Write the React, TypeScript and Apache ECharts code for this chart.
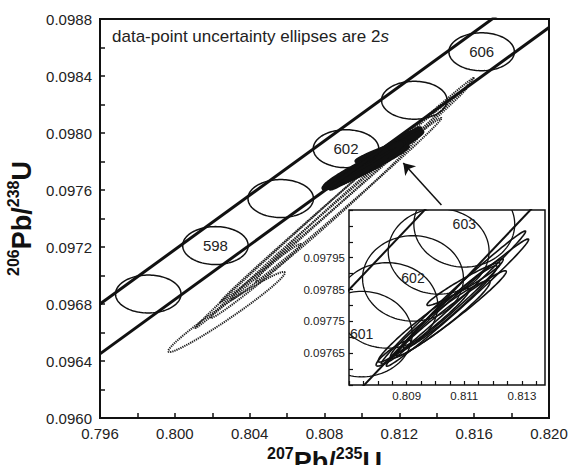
import React, { useEffect, useRef } from "react";
import * as echarts from "echarts";

const FONT = "'Liberation Sans', Arial, sans-serif";

// ---- main axes ----
const mainXMin = 0.796;
const mainXMax = 0.82;
const mainXStep = 0.002; // tick step; labels every 0.004
const mainYMin = 0.096;
const mainYMax = 0.0988;
const mainYStep = 0.0002; // tick step; labels every 0.0004

// ---- inset axes ----
const insetXMin = 0.807;
const insetXMax = 0.8138;
const insetXStep = 0.0005;
const insetXLabels = [0.809, 0.811, 0.813];
const insetYMin = 0.09755;
const insetYMax = 0.0981;
const insetYStep = 0.00005;
const insetYLabels = [0.09765, 0.09775, 0.09785, 0.09795];

// ---- concordia band (two bounding lines) ----
const concordiaUpper = [
  [0.796, 0.0968],
  [0.82, 0.09909],
];
const concordiaLower = [
  [0.796, 0.09645],
  [0.82, 0.09874],
];

// ---- concordia age markers (main plot) ----
const ageMarkAges = [596, 598, 600, 602, 604, 606];
const ageMarkX = [0.79858, 0.80217, 0.80566, 0.80915, 0.8128, 0.8164];
const ageMarkY = [0.09687, 0.09721, 0.09754, 0.09789, 0.09823, 0.09857];
const ageMarkRx = 0.00175;
const ageMarkRy = 0.000133;
const labelledMainAges = [598, 602, 606];

// ---- concordia age markers (inset) ----
const insetAges = [601, 601.5, 602, 602.5, 603];
const insetAgeX = [0.80744, 0.80833, 0.80922, 0.81011, 0.811];
const insetAgeY = [0.09771, 0.0978, 0.097885, 0.09797, 0.098055];
const labelledInsetAges = [601, 602, 603];

// ---- solid data-point ellipses (centre x, centre y, half-extent x, half-extent y, correlation) ----
const solidCx = [0.810623, 0.810764, 0.810534, 0.810552, 0.810975, 0.8096, 0.810164, 0.808541, 0.810517];
const solidCy = [0.097825, 0.097809, 0.0978, 0.097775, 0.097867, 0.097738, 0.097756, 0.09765, 0.097795];
const solidSx = [0.002504, 0.002469, 0.001817, 0.001905, 0.00127, 0.001587, 0.001728, 0.0006, 0.001623];
const solidSy = [0.000209, 0.0002, 0.000147, 0.000134, 0.0000672, 0.000116, 0.000122, 0.0000406, 0.00013];
const solidRho = [0.993, 0.991, 0.985, 0.979, 0.965, 0.968, 0.96, 0.9, 0.974];

// ---- dotted data-point ellipses ----
const dottedCx = [0.802765, 0.808537, 0.80902, 0.808617, 0.808752, 0.804322];
const dottedCy = [0.096744, 0.097509, 0.097565, 0.097467, 0.097481, 0.096961];
const dottedSx = [0.003114, 0.007436, 0.006577, 0.005638, 0.00443, 0.002416];
const dottedSy = [0.000281, 0.000877, 0.000751, 0.000639, 0.000526, 0.00026];
const dottedRho = [0.9771, 0.99907, 0.99877, 0.99735, 0.99414, 0.9901];

// ---- arrow from inset to cluster ----
const arrowFrom = [0.81425, 0.097495];
const arrowTo = [0.81221, 0.09779];

const zip5 = (a: number[], b: number[], c: number[], d: number[], e: number[]) =>
  a.map((v, i) => [v, b[i], c[i], d[i], e[i]]);

function ellipseRenderer(style: any) {
  return (params: any, api: any) => {
    const cx = api.value(0);
    const cy = api.value(1);
    const sx = api.value(2);
    const sy = api.value(3);
    const rho = api.value(4);
    const k = Math.sqrt(Math.max(0, 1 - rho * rho));
    const pts: number[][] = [];
    const n = 120;
    for (let i = 0; i < n; i++) {
      const t = (i / n) * Math.PI * 2;
      const c = Math.cos(t);
      const s = Math.sin(t);
      pts.push(api.coord([cx + sx * c, cy + sy * (rho * c + k * s)]));
    }
    return { type: "polygon", shape: { points: pts }, style: { ...style } };
  };
}

function textRenderer(fontSize: number) {
  return (params: any, api: any) => {
    const p = api.coord([api.value(0), api.value(1)]);
    return {
      type: "text",
      x: p[0],
      y: p[1],
      style: {
        text: String(api.value(2)),
        fill: "#222",
        font: `${fontSize}px ${FONT}`,
        align: "center",
        verticalAlign: "middle",
      },
    };
  };
}

const titleRich = {
  b: { fontSize: 27, fontWeight: "bold", fontFamily: FONT, color: "#111", lineHeight: 30, verticalAlign: "bottom" },
  s: { fontSize: 16, fontWeight: "bold", fontFamily: FONT, color: "#111", lineHeight: 21, verticalAlign: "top" },
};

export default function App() {
  const ref = useRef<HTMLDivElement>(null);
  useEffect(() => {
    if (!ref.current) return;
    const chart = echarts.init(ref.current, undefined, { renderer: "svg" });

    const mainAgeData = ageMarkAges.map((a, i) => [ageMarkX[i], ageMarkY[i], ageMarkRx, ageMarkRy, 0]);
    const mainAgeLabels = ageMarkAges
      .map((a, i) => [ageMarkX[i], ageMarkY[i], a])
      .filter((d) => labelledMainAges.includes(d[2] as number));
    const insetAgeData = insetAges.map((a, i) => [insetAgeX[i], insetAgeY[i], ageMarkRx, ageMarkRy * 1.01, 0]);
    const insetAgeLabels = insetAges
      .map((a, i) => [insetAgeX[i], insetAgeY[i], a])
      .filter((d) => labelledInsetAges.includes(d[2] as number));
    const solidData = zip5(solidCx, solidCy, solidSx, solidSy, solidRho);
    const dottedData = zip5(dottedCx, dottedCy, dottedSx, dottedSy, dottedRho);

    const tickLine = { color: "#111", width: 1.5 };

    const option: any = {
      animation: false,
      backgroundColor: "#fff",
      grid: [
        {
          left: 100, top: 19, width: 449, height: 399, show: true, borderColor: "#111", borderWidth: 2,
          backgroundColor: "#fff", z: 0, containLabel: false, outerBoundsMode: "none",
        },
        {
          left: 349, top: 210, width: 196, height: 175, show: true, borderColor: "#111", borderWidth: 1.5,
          backgroundColor: "#fff", z: 20, containLabel: false, outerBoundsMode: "none",
        },
      ],
      xAxis: [
        {
          gridIndex: 0,
          type: "value",
          min: mainXMin,
          max: mainXMax,
          interval: mainXStep,
          axisLine: { show: true, onZero: false, lineStyle: { color: "#111", width: 2 } },
          axisTick: { show: true, inside: true, length: 5, lineStyle: tickLine },
          splitLine: { show: false },
          axisLabel: {
            color: "#222",
            fontSize: 15,
            fontFamily: FONT,
            margin: 8,
            showMinLabel: true,
            showMaxLabel: true,
            formatter: (v: number) => (Math.round(v * 1000) % 4 === 0 ? v.toFixed(3) : ""),
          },
          name: "{s|207}{b|Pb/}{s|235}{b|U}",
          nameLocation: "middle",
          nameGap: 5,
          nameTextStyle: { rich: titleRich },
        },
        {
          gridIndex: 1,
          type: "value",
          min: insetXMin,
          max: insetXMax,
          interval: insetXStep,
          z: 22,
          axisLine: { show: false, onZero: false },
          axisTick: { show: true, inside: true, length: 4, lineStyle: { color: "#111", width: 1.2 } },
          splitLine: { show: false },
          axisLabel: {
            color: "#222",
            fontSize: 11.5,
            fontFamily: FONT,
            margin: 5,
            showMinLabel: true,
            showMaxLabel: false,
            formatter: (v: number) =>
              insetXLabels.some((l) => Math.abs(l - v) < 1e-7) ? v.toFixed(3) : "",
          },
        },
      ],
      yAxis: [
        {
          gridIndex: 0,
          type: "value",
          min: mainYMin,
          max: mainYMax,
          interval: mainYStep,
          axisLine: { show: true, onZero: false, lineStyle: { color: "#111", width: 2 } },
          axisTick: { show: true, inside: true, length: 5, lineStyle: tickLine },
          splitLine: { show: false },
          axisLabel: {
            color: "#222",
            fontSize: 15,
            fontFamily: FONT,
            margin: 8,
            showMinLabel: true,
            showMaxLabel: true,
            formatter: (v: number) => (Math.round(v * 10000) % 4 === 0 ? v.toFixed(4) : ""),
          },
          name: "{s|206}{b|Pb/}{s|238}{b|U}",
          nameLocation: "middle",
          nameGap: 58,
          nameRotate: 90,
          nameTextStyle: { rich: titleRich },
        },
        {
          gridIndex: 1,
          type: "value",
          min: insetYMin,
          max: insetYMax,
          interval: insetYStep,
          z: 22,
          axisLine: { show: false, onZero: false },
          axisTick: { show: true, inside: true, length: 4, lineStyle: { color: "#111", width: 1.2 } },
          splitLine: { show: false },
          axisLabel: {
            color: "#222",
            fontSize: 11.5,
            fontFamily: FONT,
            margin: 4,
            showMinLabel: true,
            showMaxLabel: true,
            formatter: (v: number) =>
              insetYLabels.some((l) => Math.abs(l - v) < 1e-7) ? v.toFixed(5) : "",
          },
        },
      ],
      graphic: [
        {
          type: "text",
          left: 112,
          top: 28,
          z: 30,
          style: {
            text: "{n|data-point uncertainty ellipses are 2}{i|s}",
            rich: {
              n: { fontSize: 17, fontFamily: FONT, fill: "#222" },
              i: { fontSize: 17, fontFamily: FONT, fontStyle: "italic", fill: "#222" },
            },
          },
        },
      ],
      series: [
        {
          type: "custom",
          name: "dotted ellipses",
          xAxisIndex: 0,
          yAxisIndex: 0,
          z: 2,
          silent: true,
          data: dottedData,
          renderItem: ellipseRenderer({ fill: "none", stroke: "#222", lineWidth: 2, lineDash: [1.3, 0.9] }),
        },
        {
          type: "custom",
          name: "solid ellipses main",
          xAxisIndex: 0,
          yAxisIndex: 0,
          z: 3,
          silent: true,
          data: solidData,
          renderItem: ellipseRenderer({ fill: "#111", stroke: "#111", lineWidth: 4, lineJoin: "round" }),
        },
        {
          type: "custom",
          name: "age markers main",
          xAxisIndex: 0,
          yAxisIndex: 0,
          z: 4,
          silent: true,
          data: mainAgeData,
          renderItem: ellipseRenderer({ fill: "none", stroke: "#111", lineWidth: 1.5 }),
        },
        {
          type: "line",
          name: "concordia upper",
          xAxisIndex: 0,
          yAxisIndex: 0,
          z: 5,
          silent: true,
          symbol: "none",
          data: concordiaUpper,
          lineStyle: { color: "#111", width: 3 },
          markLine: {
            silent: true,
            symbol: ["none", "arrow"],
            symbolSize: 11,
            label: { show: false },
            lineStyle: { color: "#111", width: 1.5, type: "solid" },
            data: [[{ coord: arrowFrom }, { coord: arrowTo }]],
          },
        },
        {
          type: "line",
          name: "concordia lower",
          xAxisIndex: 0,
          yAxisIndex: 0,
          z: 5,
          silent: true,
          symbol: "none",
          data: concordiaLower,
          lineStyle: { color: "#111", width: 3 },
        },
        {
          type: "custom",
          name: "age labels main",
          xAxisIndex: 0,
          yAxisIndex: 0,
          z: 6,
          silent: true,
          data: mainAgeLabels,
          renderItem: textRenderer(15),
        },
        // ---- inset ----
        {
          type: "custom",
          name: "age markers inset",
          xAxisIndex: 1,
          yAxisIndex: 1,
          z: 21,
          clip: true,
          silent: true,
          data: insetAgeData,
          renderItem: ellipseRenderer({ fill: "none", stroke: "#111", lineWidth: 1.3 }),
        },
        {
          type: "custom",
          name: "solid ellipses inset",
          xAxisIndex: 1,
          yAxisIndex: 1,
          z: 21,
          clip: true,
          silent: true,
          data: solidData,
          renderItem: ellipseRenderer({ fill: "none", stroke: "#111", lineWidth: 1.6 }),
        },
        {
          type: "line",
          name: "inset concordia upper",
          xAxisIndex: 1,
          yAxisIndex: 1,
          z: 21,
          silent: true,
          symbol: "none",
          data: concordiaUpper,
          lineStyle: { color: "#111", width: 2 },
        },
        {
          type: "line",
          name: "inset concordia lower",
          xAxisIndex: 1,
          yAxisIndex: 1,
          z: 21,
          silent: true,
          symbol: "none",
          data: concordiaLower,
          lineStyle: { color: "#111", width: 2 },
        },
        {
          type: "custom",
          name: "age labels inset",
          xAxisIndex: 1,
          yAxisIndex: 1,
          z: 23,
          clip: true,
          silent: true,
          data: insetAgeLabels,
          renderItem: textRenderer(14),
        },
      ],
    };
    chart.setOption(option);
    return () => chart.dispose();
  }, []);
  return <div ref={ref} style={{ position: "fixed", left: 0, top: 0, width: 571, height: 465 }} />;
}
